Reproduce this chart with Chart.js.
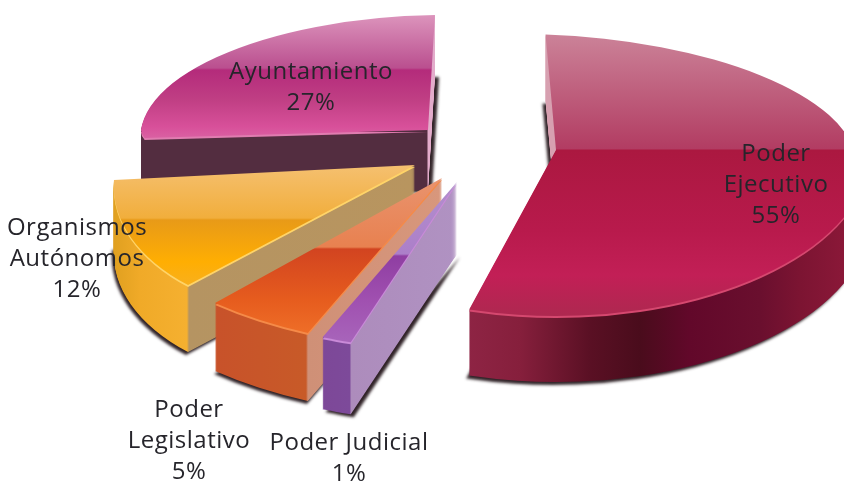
<!DOCTYPE html>
<html>
<head>
<meta charset="utf-8">
<title>Presupuesto</title>
<script src="https://cdn.jsdelivr.net/npm/chart.js@4/dist/chart.umd.min.js"></script>
<style>
    html, body { margin: 0; padding: 0; background: #fff; overflow: hidden; }
    canvas { display: block; }
</style>
</head>
<body>
<canvas id="pie3d" width="844" height="482"></canvas>
<script>
var categories = ['Poder Ejecutivo', 'Poder Judicial', 'Poder Legislativo', 'Organismos Autónomos', 'Ayuntamiento'];
var shares = [55, 1, 5, 12, 27];
var labelLines = [['Poder', 'Ejecutivo'], ['Poder Judicial'], ['Poder', 'Legislativo'], ['Organismos', 'Autónomos'], ['Ayuntamiento']];

// where each text block sits: centre x, first baseline
var labelAnchors = [[776, 161], [349, 450], [189, 417], [77, 235], [311, 79]];

// how each slice is laid on the page (a fake 3D projection per slice)
var sliceViews = [
    { px: 556, py: 150, a: 315, b: 0, d: 0, e: 166, aUp: 300, bUp: 0, dUp: 14, eUp: 115, depth: 66 },
    { px: 457, py: 182, a: 464, b: 22.5, d: 28.6, e: 175, aUp: 464, bUp: 22.5, dUp: 28.6, eUp: 175, depth: 72 },
    { px: 442, py: 178, a: 348, b: -18.5, d: 16.2, e: 170.2, aUp: 348, bUp: -18.5, dUp: 16.2, eUp: 170.2, depth: 68 },
    { px: 415, py: 165, a: 295.4, b: -59, d: 10.7, e: 159.8, aUp: 295.4, bUp: -59, dUp: 10.7, eUp: 159.8, depth: 67 },
    { px: 428, py: 130, a: 287, b: 0, d: 0, e: 50, aUp: 287, bUp: -17, dUp: 0, eUp: 115, depth: 60 }
];
var drawOrder = [4, 0, 3, 2, 1];

var topStops = [
    [[35, '#cb8298'], [149, '#b23c62'], [150, '#ab1840'], [230, '#b81a4c'], [275, '#c21f56'], [315, '#ae2850']],
    [[182, '#b28fcd'], [254, '#ac7fc9'], [256, '#8f3ea2'], [300, '#a050b0'], [345, '#a866bb']],
    [[178, '#e9936e'], [247, '#e88150'], [249, '#d24420'], [300, '#e65c1e'], [335, '#ef6f28']],
    [[165, '#f5c070'], [218, '#f1ae3c'], [220, '#e89a18'], [262, '#ffae02'], [290, '#f7b022']],
    [[15, '#dc94bc'], [68, '#ba4f8f'], [70, '#b42b7b'], [100, '#c03f84'], [127, '#d8509a'], [140, '#da64a4']]
];
var wallStops = [
    [[468, '#8e2444'], [520, '#861f3c'], [590, '#5a1024'], [640, '#4a0c1c'], [690, '#62082a'], [760, '#6a0f2e'], [800, '#7c1432'], [844, '#8a1838']],
    [[323, '#7d4898'], [350, '#7d4a9a'], [351, '#ad8cbc'], [457, '#b092c2']],
    [[215, '#c8522a'], [306, '#c85a28'], [308, '#cf9077'], [442, '#d8977c']],
    [[114, '#e0a020'], [140, '#f0aa28'], [187, '#f5b030'], [189, '#b59462'], [415, '#b8955f']],
    [[140, '#532d40'], [427, '#532d40'], [428, '#e3accb'], [440, '#e3accb']]
];
var wallUpStops = [
    [[540, '#d7a0b0'], [556, '#d7a0b0']],
    wallStops[1],
    wallStops[2],
    wallStops[3],
    wallStops[4]
];
var rimColors = ['#d5486f', '#c98ad8', '#f58a48', '#ffd468', '#e07cb0'];
var shadowShift = [[-3, 3], [3, 3], [-1, 3], [-2, 3], [4, 2]];

function screenGradient(ctx, axis, stops) {
    var m = ctx.getTransform();
    var A = axis === 'x' ? m.a : m.b;
    var B = axis === 'x' ? m.c : m.d;
    var C = axis === 'x' ? m.e : m.f;
    var n = A * A + B * B;
    var from = stops[0][0];
    var to = stops[stops.length - 1][0];
    var s0 = (from - C) / n;
    var s1 = (to - C) / n;
    var g = ctx.createLinearGradient(s0 * A, s0 * B, s1 * A, s1 * B);
    stops.forEach(function (st) {
        g.addColorStop((st[0] - from) / (to - from), st[1]);
    });
    return g;
}

// fill is a colour, or stops + axis for a gradient fixed on the page
function paintSlice(ctx, arc, view, upper, dy, fill, axis) {
    var R = arc.outerRadius;
    var edge = view.py + dy;
    ctx.save();
    ctx.beginPath();
    if (upper) {
        ctx.rect(0, 0, 844, edge);
    } else {
        ctx.rect(0, edge, 844, 482 - edge);
    }
    ctx.clip();
    ctx.translate(view.px, edge);
    if (upper) {
        ctx.transform(view.aUp / R, view.dUp / R, view.bUp / R, view.eUp / R, 0, 0);
    } else {
        ctx.transform(view.a / R, view.d / R, view.b / R, view.e / R, 0, 0);
    }
    ctx.translate(-arc.x, -arc.y);
    var paint = typeof fill === 'string' ? fill : screenGradient(ctx, axis, fill);
    var saved = arc.options;
    arc.options = Object.assign({}, saved, { backgroundColor: paint });
    arc.draw(ctx);
    arc.options = saved;
    ctx.restore();
}

var pie3dPlugin = {
    id: 'pie3d',
    beforeDatasetsDraw: function (chart) {
        var ctx = chart.ctx;
        var arcs = chart.getDatasetMeta(0).data;
        drawOrder.forEach(function (i) {
            var view = sliceViews[i];
            for (var dy = view.depth; dy >= 1; dy--) {
                ctx.save();
                if (dy === view.depth) {
                    ctx.shadowColor = 'rgba(25,10,15,0.9)';
                    ctx.shadowBlur = 3;
                    ctx.shadowOffsetX = shadowShift[i][0];
                    ctx.shadowOffsetY = shadowShift[i][1];
                }
                paintSlice(ctx, arcs[i], view, true, dy, wallUpStops[i], 'x');
                paintSlice(ctx, arcs[i], view, false, dy, wallStops[i], 'x');
                ctx.restore();
            }
            paintSlice(ctx, arcs[i], view, false, 2, rimColors[i]);
            paintSlice(ctx, arcs[i], view, true, 0, topStops[i], 'y');
            paintSlice(ctx, arcs[i], view, false, 0, topStops[i], 'y');
        });
        return false;
    },
    afterDraw: function (chart) {
        var ctx = chart.ctx;
        ctx.save();
        ctx.fillStyle = '#26252b';
        ctx.font = '24px "Open Sans"';
        ctx.textAlign = 'center';
        ctx.letterSpacing = '0.5px';
        categories.forEach(function (name, i) {
            var lines = labelLines[i].concat([shares[i] + '%']);
            lines.forEach(function (line, k) {
                ctx.fillText(line, labelAnchors[i][0], labelAnchors[i][1] + k * 31);
            });
        });
        ctx.restore();
    }
};

new Chart(document.getElementById('pie3d'), {
    type: 'pie',
    data: {
        labels: categories,
        datasets: [{ data: shares, borderWidth: 0 }]
    },
    options: {
        responsive: false,
        animation: false,
        rotation: -2,
        plugins: { legend: { display: false }, tooltip: { enabled: false } }
    },
    plugins: [pie3dPlugin]
});
</script>
</body>
</html>
